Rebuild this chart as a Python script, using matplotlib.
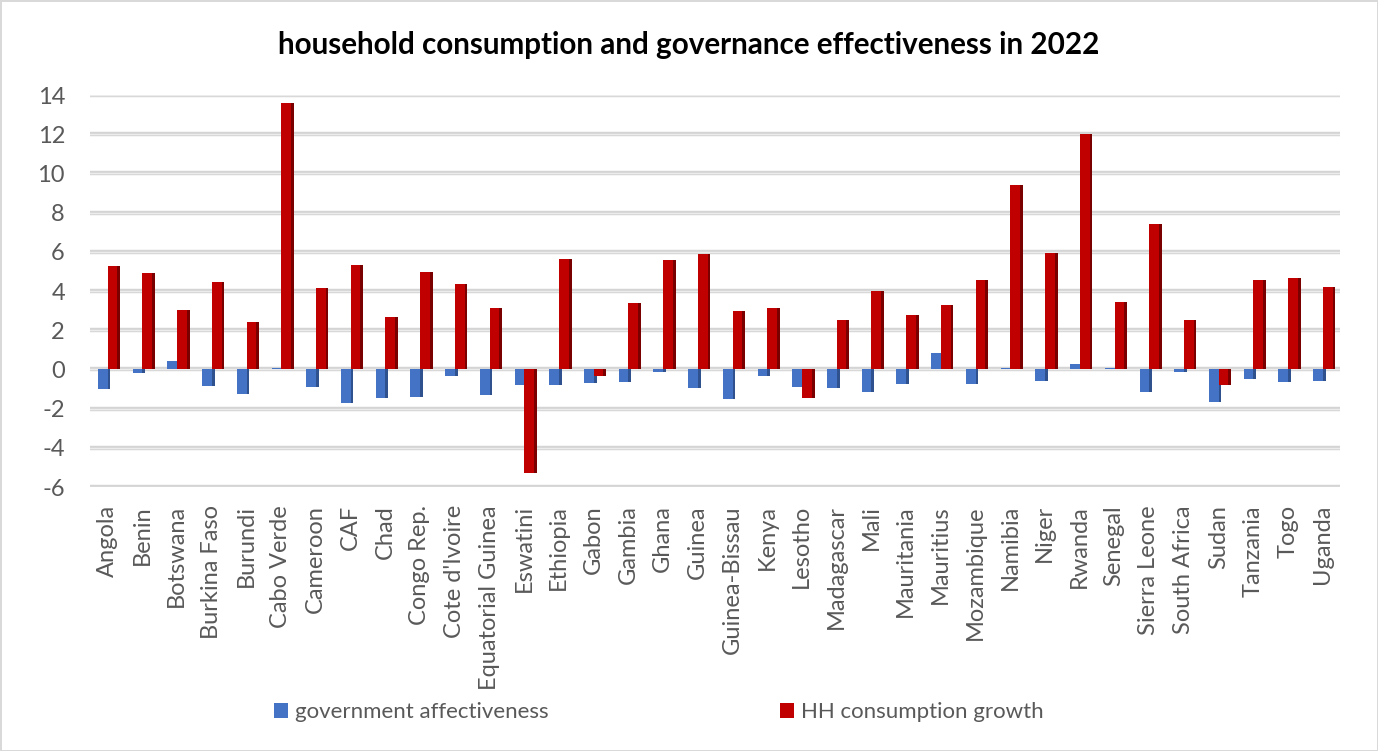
import numpy as np
import matplotlib.pyplot as plt

plt.rcParams['font.family'] = ['Lato', 'DejaVu Sans']
plt.rcParams['axes.unicode_minus'] = False

# countries on the x axis
countries = ['Angola', 'Benin', 'Botswana', 'Burkina Faso', 'Burundi', 'Cabo Verde',
             'Cameroon', 'CAF', 'Chad', 'Congo Rep.', "Cote d'Ivoire", 'Equatorial Guinea',
             'Eswatini', 'Ethiopia', 'Gabon', 'Gambia', 'Ghana', 'Guinea', 'Guinea-Bissau',
             'Kenya', 'Lesotho', 'Madagascar', 'Mali', 'Mauritania', 'Mauritius',
             'Mozambique', 'Namibia', 'Niger', 'Rwanda', 'Senegal', 'Sierra Leone',
             'South Africa', 'Sudan', 'Tanzania', 'Togo', 'Uganda']

gov_eff = [-1.0, -0.18, 0.45, -0.86, -1.27, 0.05, -0.91, -1.7, -1.44, -1.39, -0.35, -1.31,
           -0.77, -0.8, -0.69, -0.64, -0.13, -0.94, -1.49, -0.32, -0.91, -0.97, -1.16, -0.72,
           0.82, -0.74, 0.05, -0.6, 0.29, 0.05, -1.16, -0.13, -1.66, -0.47, -0.65, -0.6]

hh_growth = [5.3, 4.92, 3.04, 4.48, 2.4, 13.6, 4.13, 5.35, 2.67, 4.97, 4.38, 3.12,
             -5.27, 5.64, -0.32, 3.39, 5.6, 5.89, 3.0, 3.14, -1.44, 2.5, 3.98, 2.8,
             3.29, 4.55, 9.42, 5.94, 12.0, 3.46, 7.4, 2.5, -0.77, 4.57, 4.68, 4.21]

blue, blue_dark = '#4472C4', '#2F528F'
red, red_dark = '#C00000', '#7A0000'
txt = '#595959'

fig = plt.figure(figsize=(13.78, 7.51), dpi=100)
fig.patch.set_edgecolor('#d9d9d9')
fig.patch.set_linewidth(2)
ax = fig.add_axes([0.0653, 0.3515, 0.907, 0.522])

x = np.arange(len(countries))
w = 0.28
side = 0.08

# gridlines (imitating the excel 3d walls)
for t in range(-6, 16, 2):
    ax.axhline(t, color='#d4d4d4', lw=3.2, zorder=0)
    ax.axhline(t, color='#ececec', lw=1.0, zorder=0)

# darker "side" faces first, then the front faces
ax.bar(x - 0.13 + side, gov_eff, w, color=blue_dark, zorder=2)
ax.bar(x - 0.13, gov_eff, w, color=blue, zorder=3, label='government affectiveness')
ax.bar(x + 0.15 + side, hh_growth, w, color=red_dark, zorder=4)
ax.bar(x + 0.15, hh_growth, w, color=red, zorder=5, label='HH consumption growth')

ax.set_xlim(-0.5, len(countries) - 0.5)
ax.set_ylim(-6, 14)
ax.set_yticks(range(-6, 16, 2))
ax.set_xticks(x)
ax.set_xticklabels(countries, rotation=90, fontsize=17, color=txt)
ax.tick_params(axis='y', labelsize=17, labelcolor=txt, length=0, pad=18)
ax.tick_params(axis='x', length=0, pad=13)
for s in ax.spines.values():
    s.set_visible(False)

fig.text(0.5, 0.94, 'household consumption and governance effectiveness in 2022',
         ha='center', va='center', fontsize=21.3, fontweight='bold', color='black')

handles, labels = ax.get_legend_handles_labels()
fig.legend(handles, labels, loc='center', bbox_to_anchor=(0.478, 0.052), ncol=2,
           frameon=False, fontsize=16, labelcolor=txt, handlelength=0.65, handleheight=0.65,
           handletextpad=0.3, columnspacing=10.4)

fig.savefig('out.png', dpi=100)
